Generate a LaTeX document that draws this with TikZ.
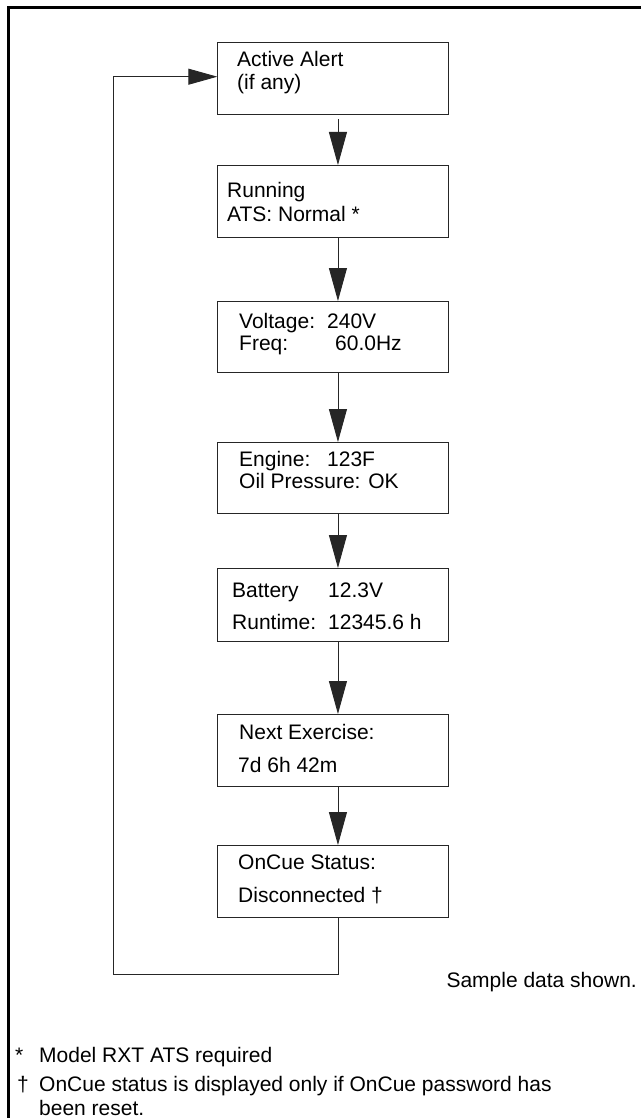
\documentclass[tikz,border=0pt]{standalone}
\usepackage{fontspec}
\setmainfont{Liberation Sans}
\usetikzlibrary{arrows.meta}
\begin{document}
\begin{tikzpicture}[x=1pt,y=-1pt,
  box/.style={draw=black!85, line width=0.9pt, minimum width=231pt, minimum height=72pt, inner sep=0pt, anchor=north west},
  txt/.style={anchor=base west, inner sep=0pt, font=\fontsize{21}{25}\selectfont},
  flow/.style={draw=black!85, line width=0.9pt, -{Triangle[length=33pt,width=18pt]}},
  loopline/.style={draw=black!85, line width=0.9pt, -{Triangle[length=29pt,width=16pt]}},
  frame/.style={draw=black, line width=2.7pt}
]
\useasboundingbox (0,0) rectangle (641,1118);
\fill[white] (0,0) rectangle (641,1118);
\draw[frame] (641,7.4) -- (8.7,7.4) -- (8.7,1118);

% boxes
\node[box] (b1) at (217.3,42.3) {};
\node[box] (b2) at (217.3,165) {};
\node[box, minimum height=71pt] (b3) at (217.3,301) {};
\node[box, minimum height=71pt] (b4) at (217.3,442) {};
\node[box, minimum height=73pt] (b5) at (217.3,568) {};
\node[box] (b6) at (217.3,714) {};
\node[box] (b7) at (217.3,845) {};

% texts
\node[txt] (t1a) at (237,67) {Active Alert};
\node[txt] (t1b) at (237,90) {(if any)};
\node[txt] (t2a) at (227,197) {Running};
\node[txt] (t2b) at (227,221) {ATS: Normal *};
\node[txt] (t3a) at (239,328) {Voltage:};
\node[txt] (t3b) at (327,328) {240V};
\node[txt] (t3c) at (239,350) {Freq:};
\node[txt] (t3d) at (335,350) {60.0Hz};
\node[txt] (t4a) at (239,466) {Engine:};
\node[txt] (t4b) at (327,466) {123F};
\node[txt] (t4c) at (239,488) {Oil Pressure: OK};
\node[txt] (t5a) at (232,597) {Battery};
\node[txt] (t5b) at (328,597) {12.3V};
\node[txt] (t5c) at (232,629) {Runtime:};
\node[txt] (t5d) at (328,629) {12345.6 h};
\node[txt] (t6a) at (239,739) {Next Exercise:};
\node[txt] (t6b) at (238,772) {7d 6h 42m};
\node[txt] (t7a) at (238,869) {OnCue Status:};
\node[txt] (t7b) at (238,902) {Disconnected †};

% arrows
\draw[flow] ([xshift=4.7pt,yshift=-4pt]b1.south) -- ([xshift=4.7pt]b2.north);
\draw[flow] ([xshift=4.7pt]b2.south) -- ([xshift=4.7pt]b3.north);
\draw[flow] ([xshift=4.7pt]b3.south) -- ([xshift=4.7pt]b4.north);
\draw[flow] ([xshift=4.7pt]b4.south) -- ([xshift=4.7pt]b5.north);
\draw[flow] ([xshift=4.7pt]b5.south) -- ([xshift=4.7pt]b6.north);
\draw[flow] ([xshift=4.7pt]b6.south) -- ([xshift=4.7pt]b7.north);

% loop back
\coordinate (lb) at (113.7,974);
\coordinate (lt) at (113.7,76.7);
\draw[loopline] ([xshift=4.7pt]b7.south) |- (lb) -- (lt) -- (lt -| b1.west);

% notes
\node[txt, anchor=base east] (sample) at (637,987) {Sample data shown.};
\node[txt] (s1) at (15,1062) {*};
\node[txt] (n1) at (39,1062) {Model RXT ATS required};
\node[txt] (s2) at (17,1091) {†};
\node[txt] (n2) at (39,1091) {OnCue status is displayed only if OnCue password has};
\node[txt] (n3) at (39,1115) {been reset.};
\end{tikzpicture}
\end{document}
